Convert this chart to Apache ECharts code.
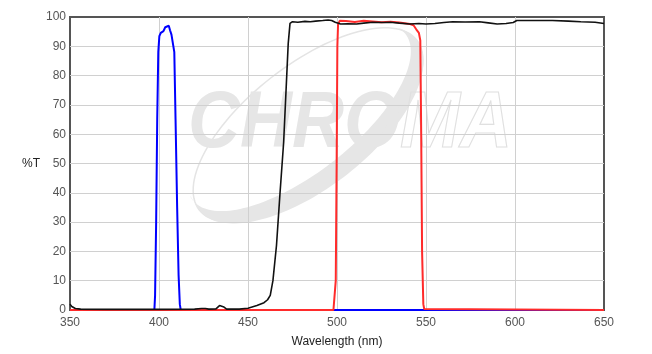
<!DOCTYPE html>
<html>
<head>
<meta charset="utf-8">
<script src="https://cdn.jsdelivr.net/npm/echarts@6/dist/echarts.min.js"></script>
<style>html,body{margin:0;padding:0;background:#fff}#c{width:652px;height:354px}</style>
</head>
<body>
<div id="c"></div>
<script>
// ---- data ----
const xTicks = [350, 400, 450, 500, 550, 600, 650];
const yTicks = [0, 10, 20, 30, 40, 50, 60, 70, 80, 90, 100];

const blueWl = [350, 397.4, 397.8, 398.4, 399, 399.6, 400.2, 401, 402.5, 403.5, 404.5, 405.5, 406.2, 407, 408, 408.6, 409.3, 410.2, 411, 411.7, 412.2, 650];
const blueT  = [0, 0, 5, 30, 65, 88, 93.5, 94.6, 95.2, 96.5, 97, 97, 95.5, 94, 93.5, 88, 65, 35, 12, 2, 0, 0];

const redWl = [350, 498, 498.8, 499.3, 499.8, 500.2, 500.6, 501.5, 505, 510, 515, 520, 525, 530, 535, 538, 541, 543, 544.5, 546, 546.8, 547.3, 547.8, 548.5, 549, 550, 650];
const redT  = [0, 0, 0.5, 10, 50, 90, 97.5, 98.7, 98.6, 98.3, 98.7, 98.5, 98.2, 98.4, 98.1, 97.9, 97.6, 97.2, 95.8, 94.6, 92, 60, 20, 2, 0.3, 0, 0];

const blackWl = [350, 351, 353, 356, 370, 390, 400, 420, 424, 426, 428, 432, 434, 435, 436.5, 438, 445, 450, 455, 459, 461, 462.5, 464, 466, 468, 470, 471.3, 472.6, 473.6, 475, 478, 482, 485, 488, 492, 495, 497, 499, 502, 506, 511, 515, 520, 526, 530, 535, 541, 546, 550, 555, 560, 565, 572, 580, 585, 590, 595, 599, 601, 610, 621, 630, 637, 645, 650];
const blackT  = [2.0, 1.2, 0.5, 0.3, 0.2, 0.2, 0.2, 0.3, 0.5, 0.5, 0.3, 0.4, 1.5, 1.8, 1.0, 0.3, 0.3, 0.6, 1.5, 2.5, 3.5, 5, 10, 22, 40, 57, 74, 91, 97.8, 98.4, 98.2, 98.5, 98.4, 98.6, 98.8, 99, 98.8, 98.2, 97.6, 97.7, 97.6, 97.9, 98.2, 98.1, 98.2, 97.9, 97.6, 97.8, 97.6, 97.8, 98.1, 98.4, 98.3, 98.4, 98, 97.6, 97.8, 98.1, 98.8, 98.8, 98.8, 98.6, 98.4, 98.2, 97.8];

const pairs = (xs, ys) => xs.map((x, i) => [x, ys[i]]);

// ---- watermark geometry (decoration only) ----
function ellipsePts(cx, cy, rx, ry, rot, t0, t1, n) {
  const pts = [], c = Math.cos(rot), s = Math.sin(rot);
  for (let i = 0; i <= n; i++) {
    const t = t0 + (t1 - t0) * i / n;
    const x = rx * Math.cos(t), y = ry * Math.sin(t);
    pts.push([cx + x * c - y * s, cy + x * s + y * c]);
  }
  return pts;
}
const ecx = 308, ecy = 125, erx = 138, ery = 60, erot = -38 * Math.PI / 180;
const outerRing = ellipsePts(ecx, ecy, erx, ery, erot, 0, Math.PI * 2, 120);
const crescent = ellipsePts(ecx, ecy, erx, ery + 3, erot, -0.2, Math.PI + 0.1, 90)
  .concat(ellipsePts(ecx - 9, ecy - 8, erx - 3, ery - 4, erot, Math.PI + 0.1, -0.2, 90));

const chart = echarts.init(document.getElementById('c'));
const axisFont = { color: '#555', fontSize: 12, fontFamily: 'Liberation Sans, Arial, sans-serif' };
const wmFont = 'italic bold 80px "Liberation Sans", Arial, sans-serif';

chart.setOption({
  animation: false,
  backgroundColor: '#fff',
  grid: { left: 70, right: 48, top: 17, bottom: 44, show: true, borderColor: '#555', borderWidth: 2, backgroundColor: 'transparent' },
  graphic: [
    { type: 'polyline', z: -10, silent: true, shape: { points: outerRing }, style: { stroke: '#e4e4e4', lineWidth: 1.5, fill: null } },
    { type: 'polygon', z: -10, silent: true, shape: { points: crescent }, style: { fill: '#e6e6e6' } },
    { type: 'text', z: -10, silent: true, x: 188, y: 165, scaleX: 0.9,
      style: { text: 'CHRO', font: wmFont, fill: '#e6e6e6', verticalAlign: 'bottom' } },
    { type: 'text', z: -10, silent: true, x: 400, y: 165, scaleX: 0.9,
      style: { text: 'MA', font: wmFont, fill: 'transparent', stroke: '#e0e0e0', lineWidth: 1.2, verticalAlign: 'bottom' } }
  ],
  xAxis: {
    type: 'value', min: 350, max: 650, interval: 50,
    name: 'Wavelength (nm)', nameLocation: 'middle', nameGap: 26,
    nameTextStyle: { color: '#222', fontSize: 12, fontFamily: 'Liberation Sans, Arial, sans-serif' },
    axisLine: { show: false }, axisTick: { show: false },
    axisLabel: Object.assign({ margin: 7, formatter: v => xTicks.includes(v) ? String(v) : '' }, axisFont),
    splitLine: { show: true, showMinLine: false, showMaxLine: false, lineStyle: { color: '#d0d0d0', width: 1 } }
  },
  yAxis: {
    type: 'value', min: 0, max: 100, interval: 10,
    name: '%T', nameLocation: 'middle', nameRotate: 0, nameGap: 22,
    nameTextStyle: { color: '#222', fontSize: 12, fontFamily: 'Liberation Sans, Arial, sans-serif', padding: [0, 0, 17, 0] },
    axisLine: { show: false }, axisTick: { show: false },
    axisLabel: Object.assign({ margin: 4, formatter: v => yTicks.includes(v) ? String(v) : '' }, axisFont),
    splitLine: { show: true, showMinLine: false, showMaxLine: false, lineStyle: { color: '#d0d0d0', width: 1 } }
  },
  series: [
    { name: 'blue', type: 'line', data: pairs(blueWl, blueT), showSymbol: false, lineStyle: { color: '#0000ff', width: 2 }, z: 2 },
    { name: 'red', type: 'line', data: pairs(redWl, redT), showSymbol: false, lineStyle: { color: '#ff2b2b', width: 2 }, z: 3 },
    { name: 'black', type: 'line', data: pairs(blackWl, blackT), showSymbol: false, lineStyle: { color: '#111', width: 1.6 }, z: 4 }
  ]
});
</script>
</body>
</html>
